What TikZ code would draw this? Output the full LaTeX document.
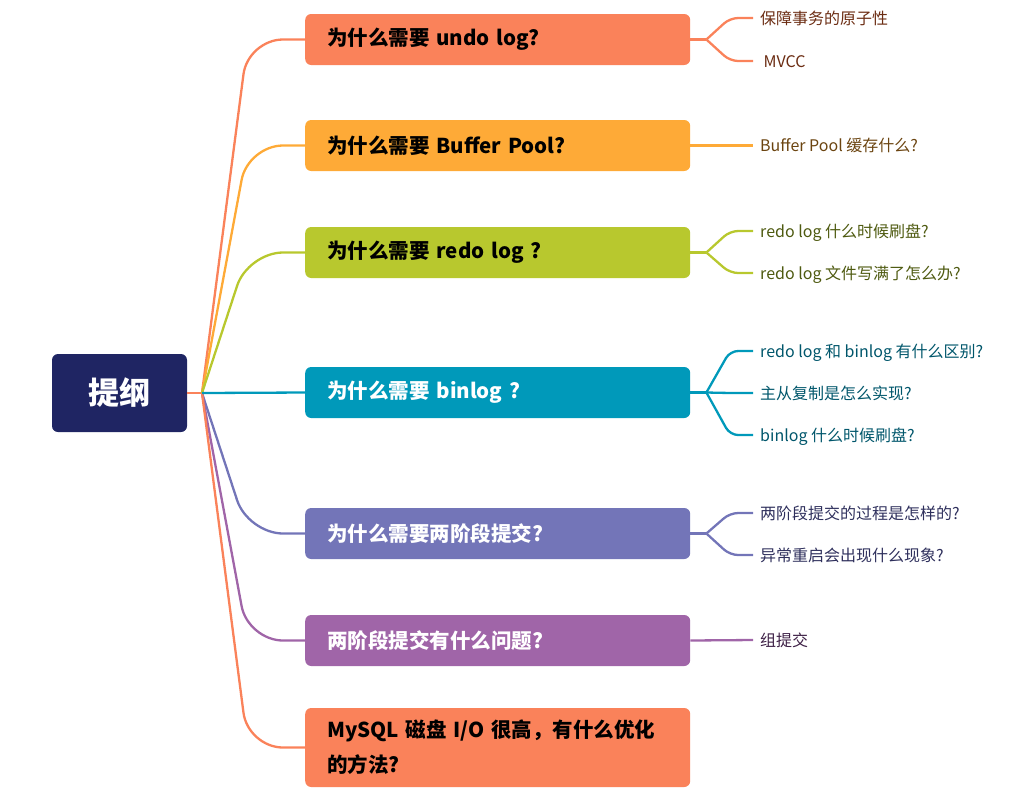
\documentclass[tikz,border=0pt]{standalone}
\usepackage{fontspec}
\setmainfont{Noto Sans CJK SC}
\usetikzlibrary{positioning}
\definecolor{rootcolor}{HTML}{1F2563}
\definecolor{undocolor}{HTML}{FA825A}
\definecolor{poolcolor}{HTML}{FEAA37}
\definecolor{redocolor}{HTML}{B8C82E}
\definecolor{bincolor}{HTML}{0099BA}
\definecolor{twocolor}{HTML}{7375B8}
\definecolor{probcolor}{HTML}{A065A8}
\definecolor{undoleaf}{HTML}{6B2C12}
\definecolor{poolleaf}{HTML}{6B4410}
\definecolor{redoleaf}{HTML}{4E5A10}
\definecolor{binleaf}{HTML}{00566B}
\definecolor{twoleaf}{HTML}{2E2F5C}
\definecolor{probleaf}{HTML}{3D1F45}

\tikzset{
  topic/.style={fill=rootcolor, text=white, rounded corners=6pt,
    minimum width=135pt, minimum height=78pt, inner sep=0pt,
    font=\fontsize{31}{36}\selectfont\bfseries},
  branch/.style={anchor=west, rounded corners=6pt, minimum height=51pt,
    text width=341pt, inner xsep=22pt, inner ysep=0pt, align=left,
    font=\fontsize{20.5}{35}\selectfont\bfseries},
  leaf/.style={anchor=west, inner sep=0pt, text height=14pt, text depth=2pt,
    font=\fontsize{16}{19}\selectfont},
  link/.style={line width=2.3pt, rounded corners=35pt},
  twig/.style={line width=2.3pt, rounded corners=8pt}
}

\begin{document}
\begin{tikzpicture}[x=1pt,y=-1pt]
  \useasboundingbox (0,0) rectangle (1011,807);
  \def\bx{305}
  \def\lx{760}

  \node[topic] (root) at (119.5,393) {提纲};
  \coordinate (fork) at (202,393);

  % branches
  \node[branch, fill=undocolor] (undo) at (\bx,39.5) {为什么需要 undo log?};
  \node[branch, fill=poolcolor] (pool) at (\bx,145.5) {为什么需要 Buffer Pool?};
  \node[branch, fill=redocolor] (redo) at (\bx,252.5) {为什么需要 redo log ?};
  \node[branch, fill=bincolor, text=white] (bin) at (\bx,392.5) {为什么需要 binlog ?};
  \node[branch, fill=twocolor, text=white] (two) at (\bx,533.5) {为什么需要两阶段提交?};
  \node[branch, fill=probcolor, text=white] (prob) at (\bx,640.5) {两阶段提交有什么问题?};
  \node[branch, fill=undocolor, minimum height=79pt] (io) at (\bx,747.5)
    {MySQL 磁盘 I/O 很高，有什么优化\\的方法?};

  \draw[link, undocolor] (root.east) -- (fork);
  \foreach \b/\c in {undo/undocolor, pool/poolcolor, redo/redocolor,
                     two/twocolor, prob/probcolor, io/undocolor}
    \draw[link, \c] (fork) -- ([xshift=-57pt]\b.west) -- (\b.west);
  \draw[link, bincolor] (fork) -- (bin.west);

  % leaves
  \node[leaf, text=undoleaf] (atom) at (\lx,18) {保障事务的原子性};
  \node[leaf, text=undoleaf] (mvcc) at (\lx,61) {\hspace{3.5pt}MVCC};
  \node[leaf, text=poolleaf] (cache) at (\lx,145.5) {Buffer Pool 缓存什么?};
  \node[leaf, text=redoleaf] (flush) at (\lx,231) {redo log 什么时候刷盘?};
  \node[leaf, text=redoleaf] (full) at (\lx,273) {redo log 文件写满了怎么办?};
  \node[leaf, text=binleaf] (diff) at (\lx,351) {redo log 和 binlog 有什么区别?};
  \node[leaf, text=binleaf] (repl) at (\lx,393) {主从复制是怎么实现?};
  \node[leaf, text=binleaf] (binflush) at (\lx,435) {binlog 什么时候刷盘?};
  \node[leaf, text=twoleaf] (steps) at (\lx,513) {两阶段提交的过程是怎样的?};
  \node[leaf, text=twoleaf] (crash) at (\lx,555) {异常重启会出现什么现象?};
  \node[leaf, text=probleaf] (group) at (\lx,640) {组提交};

  \foreach \b/\c in {undo/undocolor, redo/redocolor, bin/bincolor, two/twocolor}{
    \coordinate (\b-f) at ([xshift=16pt]\b.east);
    \draw[twig, \c] (\b.east) -- (\b-f);
  }
  \foreach \b/\l/\c in {undo/atom/undocolor, undo/mvcc/undocolor,
                        redo/flush/redocolor, redo/full/redocolor,
                        bin/diff/bincolor, bin/repl/bincolor, bin/binflush/bincolor,
                        two/steps/twocolor, two/crash/twocolor}
    \draw[twig, \c] (\b-f) -- ([xshift=-30pt]\l.west) -- ([xshift=-7pt]\l.west);
  \draw[twig, poolcolor] (pool.east) -- ([xshift=-7pt]cache.west);
  \draw[twig, probcolor] (prob.east) -- ([xshift=-7pt]group.west);
\end{tikzpicture}
\end{document}
